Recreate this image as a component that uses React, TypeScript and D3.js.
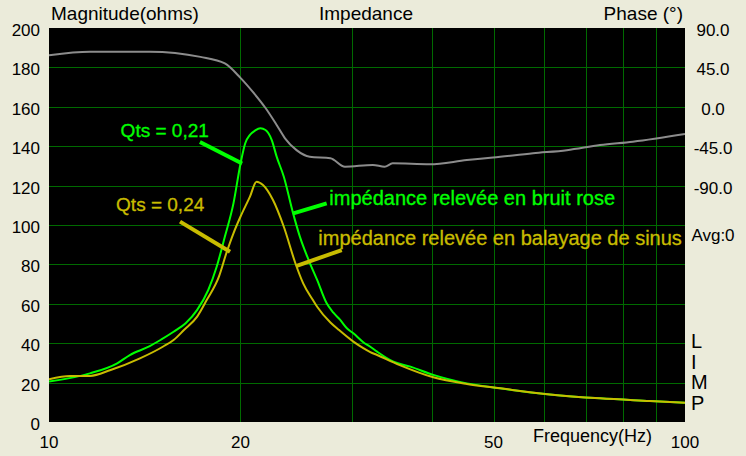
import { useEffect, useRef } from 'react';
import * as d3 from 'd3';

// pink noise measurement (Qts = 0,21)
const pinkNoiseFreqs = [10, 11.6, 12.8, 13.4, 14.4, 15.0, 15.7, 16.4, 17.1, 17.8, 18.35, 18.9, 19.5, 20.0, 20.35, 20.7, 21.1, 21.5, 21.9, 22.4, 22.8, 23.4, 24.2, 24.8, 25.6, 26.4, 27.3, 28.0, 28.7, 29.4, 30.1, 31.2, 32.0, 32.8, 34.8, 37.0, 40.2, 45.4, 51.2, 61.3, 73.5, 88.1, 100];
const pinkNoiseOhms = [20.5, 24.7, 29.8, 34, 38.5, 41.8, 45.8, 50.1, 56.9, 67, 78.8, 94, 111, 131, 141.5, 145.7, 148, 149.1, 148.2, 143.1, 134.7, 124.5, 105.9, 94.1, 82.2, 72.1, 60.5, 55.5, 51.8, 47.6, 45, 40.5, 38.2, 35.7, 30.6, 28.1, 23.9, 19.6, 17.1, 14, 12, 10.7, 9.8];

// sine sweep measurement (Qts = 0,24)
const sineSweepFreqs = [10, 10.8, 11.6, 12.5, 13.9, 15.1, 15.7, 16.3, 17.1, 17.7, 18.5, 19.0, 19.5, 20.0, 20.7, 21.2, 21.7, 22.5, 23.4, 24.4, 25.1, 26.0, 26.4, 27.7, 28.5, 30.1, 31.2, 32.0, 32.8, 35.6, 40.2, 45.4, 51.2, 61.3, 73.5, 88.1, 100];
const sineSweepOhms = [21.7, 23.4, 23.4, 26.4, 32.3, 38.2, 41.6, 46.7, 53.5, 61.9, 73.8, 85.6, 95.8, 104.2, 114.4, 122, 120.3, 112.7, 99.1, 80.6, 70.4, 61.9, 58.5, 50.5, 47, 40.8, 37.5, 35.5, 34, 28.9, 22.7, 19.3, 17.1, 14, 12, 10.7, 9.8];

// phase (degrees)
const phaseFreqs = [10, 11.6, 14.4, 17.3, 18.9, 20.0, 20.9, 21.9, 22.8, 23.5, 24.5, 25.7, 27.7, 29.2, 32.3, 33.7, 34.7, 39.7, 45.4, 49.9, 57.7, 65.2, 73.5, 82.8, 100];
const phaseDegrees = [59, 63, 63, 57, 49.5, 33, 17.3, -1.4, -20.7, -36, -49.5, -57, -58.7, -68.4, -66.4, -68.4, -64.6, -65.7, -60.8, -58, -53, -49.5, -43.7, -39.8, -31];

const magnitudeTicks = [0, 20, 40, 60, 80, 100, 120, 140, 160, 180, 200];
const phaseTicks = [90, 45, 0, -45, -90];
const freqLabels = [10, 20, 50, 100];
const freqGrid = [20, 30, 40, 50, 60, 70, 80, 90];

const GREEN = '#00ff00';
const YELLOW = '#c8bc00';
const GRAY = '#8c8c8c';
const GRID = '#006a00';
const FONT = '"Liberation Sans", Arial, sans-serif';

export default function App() {
  const svgRef = useRef<SVGSVGElement>(null);

  useEffect(() => {
    if (!svgRef.current) return;
    const svg = d3.select(svgRef.current);
    svg.selectAll('*').remove();

    const W = 746;
    const H = 456;
    const plot = { left: 49, right: 685, top: 28, bottom: 422 };

    svg.append('rect').attr('width', W).attr('height', H).attr('fill', '#ebebda');

    const x = d3.scaleLog().domain([10, 100]).range([plot.left, plot.right]);
    const y = d3.scaleLinear().domain([0, 200]).range([plot.bottom, plot.top]);
    const yPhase = d3.scaleLinear().domain([-360, 90]).range([plot.bottom, plot.top]);

    svg
      .append('rect')
      .attr('x', plot.left)
      .attr('y', plot.top)
      .attr('width', plot.right - plot.left)
      .attr('height', plot.bottom - plot.top)
      .attr('fill', '#000');

    // grid
    const grid = svg.append('g').attr('stroke', GRID).attr('stroke-width', 1);
    grid
      .selectAll('line.v')
      .data(freqGrid)
      .enter()
      .append('line')
      .attr('x1', (d) => Math.round(x(d)) + 0.5)
      .attr('x2', (d) => Math.round(x(d)) + 0.5)
      .attr('y1', plot.top)
      .attr('y2', plot.bottom);
    grid
      .selectAll('line.h')
      .data(magnitudeTicks.filter((d) => d > 0 && d < 200))
      .enter()
      .append('line')
      .attr('x1', plot.left)
      .attr('x2', plot.right)
      .attr('y1', (d) => Math.round(y(d)) + 0.5)
      .attr('y2', (d) => Math.round(y(d)) + 0.5);

    svg
      .append('defs')
      .append('clipPath')
      .attr('id', 'plotClip')
      .append('rect')
      .attr('x', plot.left)
      .attr('y', plot.top)
      .attr('width', plot.right - plot.left)
      .attr('height', plot.bottom - plot.top);

    const curves = svg.append('g').attr('clip-path', 'url(#plotClip)');

    const magLine = d3
      .line<[number, number]>()
      .x((d) => x(d[0]))
      .y((d) => y(d[1]))
      .curve(d3.curveMonotoneX);
    const phaseLine = d3
      .line<[number, number]>()
      .x((d) => x(d[0]))
      .y((d) => yPhase(d[1]))
      .curve(d3.curveMonotoneX);

    curves
      .append('path')
      .datum(d3.zip(phaseFreqs, phaseDegrees) as [number, number][])
      .attr('fill', 'none')
      .attr('stroke', GRAY)
      .attr('stroke-width', 2)
      .attr('d', phaseLine);

    curves
      .append('path')
      .datum(d3.zip(pinkNoiseFreqs, pinkNoiseOhms) as [number, number][])
      .attr('fill', 'none')
      .attr('stroke', GREEN)
      .attr('stroke-width', 2)
      .attr('d', magLine);

    curves
      .append('path')
      .datum(d3.zip(sineSweepFreqs, sineSweepOhms) as [number, number][])
      .attr('fill', 'none')
      .attr('stroke', YELLOW)
      .attr('stroke-width', 2)
      .attr('d', magLine);

    // annotation leaders (data coordinates)
    const leaders: { from: [number, number]; to: [number, number]; color: string }[] = [
      { from: [17.27, 142.1], to: [20.12, 131.2], color: GREEN },
      { from: [16.07, 101.7], to: [19.26, 86.4], color: YELLOW },
      { from: [24.22, 105.9], to: [27.33, 111], color: GREEN },
      { from: [24.52, 79.2], to: [28.86, 87.3], color: YELLOW }
    ];
    leaders.forEach((l) => {
      svg
        .append('line')
        .attr('x1', x(l.from[0]))
        .attr('y1', y(l.from[1]))
        .attr('x2', x(l.to[0]))
        .attr('y2', y(l.to[1]))
        .attr('stroke', l.color)
        .attr('stroke-width', 4);
    });

    const notes: { text: string; at: [number, number]; color: string; size: number }[] = [
      { text: 'Qts = 0,21', at: [12.96, 144.8], color: GREEN, size: 19 },
      { text: 'Qts = 0,24', at: [12.75, 106.9], color: YELLOW, size: 19 },
      { text: 'impédance relevée en bruit rose', at: [27.59, 110.4], color: GREEN, size: 20 },
      { text: 'impédance relevée en balayage de sinus', at: [26.51, 89.85], color: YELLOW, size: 20 }
    ];
    notes.forEach((n) => {
      svg
        .append('text')
        .attr('x', x(n.at[0]))
        .attr('y', y(n.at[1]))
        .attr('fill', n.color)
        .attr('font-family', FONT)
        .attr('font-size', n.size)
        .attr('stroke', n.color)
        .attr('stroke-width', 0.3)
        .text(n.text);
    });

    // left axis labels
    svg
      .append('g')
      .selectAll('text')
      .data(magnitudeTicks)
      .enter()
      .append('text')
      .attr('x', 40)
      .attr('y', (d) => y(d) + 8)
      .attr('text-anchor', 'end')
      .attr('font-family', FONT)
      .attr('font-size', 17)
      .attr('fill', '#000')
      .text((d) => d);

    // right axis labels (plain hyphen, as in the original)
    svg
      .append('g')
      .selectAll('text')
      .data(phaseTicks)
      .enter()
      .append('text')
      .attr('x', 713)
      .attr('y', (d) => yPhase(d) + 8)
      .attr('text-anchor', 'middle')
      .attr('font-family', FONT)
      .attr('font-size', 17)
      .attr('fill', '#000')
      .text((d) => d.toFixed(1));

    // bottom axis labels
    svg
      .append('g')
      .selectAll('text')
      .data(freqLabels)
      .enter()
      .append('text')
      .attr('x', (d) => x(d))
      .attr('y', 448)
      .attr('text-anchor', 'middle')
      .attr('font-family', FONT)
      .attr('font-size', 17)
      .attr('fill', '#000')
      .text((d) => d);

    const label = (txt: string, lx: number, ly: number, size: number, anchor = 'start') =>
      svg
        .append('text')
        .attr('x', lx)
        .attr('y', ly)
        .attr('text-anchor', anchor)
        .attr('font-family', FONT)
        .attr('font-size', size)
        .attr('fill', '#000')
        .text(txt);

    label('Magnitude(ohms)', 51, 20, 19);
    label('Impedance', 366, 20, 19, 'middle');
    label('Phase (°)', 683, 20, 19, 'end');
    label('Frequency(Hz)', 533, 442, 18);
    label('Avg:0', 713, 241, 17, 'middle');
    ['L', 'I', 'M', 'P'].forEach((c, i) => label(c, 691, 348 + i * 20.7, 20));
  }, []);

  return (
    <div style={{ position: 'absolute', left: 0, top: 0 }}>
      <svg ref={svgRef} width={746} height={456} style={{ display: 'block' }} />
    </div>
  );
}
